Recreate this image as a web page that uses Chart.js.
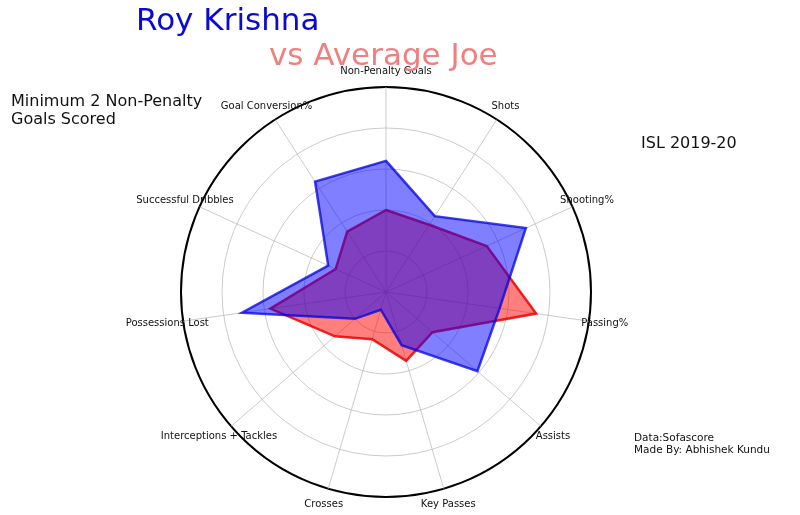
<!DOCTYPE html>
<html>
<head>
<meta charset="utf-8">
<script src="https://cdn.jsdelivr.net/npm/chart.js@4.4.1/dist/chart.umd.min.js"></script>
<style>
  html, body { margin: 0; padding: 0; background: #ffffff; }
  #wrap { width: 800px; height: 515px; position: relative; }
</style>
</head>
<body>
<div id="wrap"><canvas id="c" width="800" height="515"></canvas></div>
<script>
// ---- data ----
const categories = ['Non-Penalty Goals', 'Shots', 'Shooting%', 'Passing%', 'Assists', 'Key Passes',
  'Crosses', 'Interceptions + Tackles', 'Possessions Lost', 'Successful Dribbles', 'Goal Conversion%'];
const royKrishna = [64, 44, 75, 56, 59, 27, 9, 20, 71, 31, 64];
const averageJoe = [40, 39, 54, 74, 30, 35, 24, 33, 57, 27, 35];
const scaleTicks = [0, 20, 40, 60, 80, 100];

const FONT = "'DejaVu Sans', 'Liberation Sans', sans-serif";

const textPlugin = {
  id: 'texts',
  afterDraw(chart) {
    const ctx = chart.ctx;
    const r = chart.scales.r;
    ctx.save();
    // category labels, centred around the outer ring
    ctx.font = '10px ' + FONT;
    ctx.fillStyle = '#111';
    ctx.textAlign = 'center';
    ctx.textBaseline = 'middle';
    categories.forEach((lab, i) => {
      const p = r.getPointPosition(i, r.drawingArea * 1.078);
      ctx.fillText(lab, p.x, p.y);
    });
    ctx.textAlign = 'left';
    ctx.textBaseline = 'alphabetic';
    // titles
    ctx.font = '31px ' + FONT;
    ctx.fillStyle = '#0a0ad2';
    ctx.fillText('Roy Krishna', 136, 29.5);
    ctx.fillStyle = '#f08080';
    ctx.fillText('vs Average Joe', 269, 65);
    // side notes
    ctx.fillStyle = '#111';
    ctx.font = '16px ' + FONT;
    ctx.fillText('Minimum 2 Non-Penalty', 11, 106);
    ctx.fillText('Goals Scored', 11, 124);
    ctx.fillText('ISL 2019-20', 641, 148);
    ctx.font = '10.5px ' + FONT;
    ctx.fillText('Data:Sofascore', 634, 441);
    ctx.fillText('Made By: Abhishek Kundu', 634, 453);
    ctx.restore();
  }
};

new Chart(document.getElementById('c'), {
  type: 'radar',
  data: {
    labels: categories,
    datasets: [
      {
        label: 'Roy Krishna',
        data: royKrishna,
        backgroundColor: 'rgba(0,0,255,0.5)',
        borderColor: 'rgba(0,0,225,0.75)',
        borderWidth: 2.5,
        pointRadius: 0,
        fill: true,
        order: 0
      },
      {
        label: 'Average Joe',
        data: averageJoe,
        backgroundColor: 'rgba(255,0,0,0.5)',
        borderColor: 'rgba(235,0,0,0.85)',
        borderWidth: 2.5,
        pointRadius: 0,
        fill: true,
        order: 1
      }
    ]
  },
  options: {
    responsive: false,
    animation: false,
    devicePixelRatio: 1,
    layout: { padding: { left: 0, right: 28, top: 87, bottom: 18 } },
    plugins: {
      legend: { display: false },
      tooltip: { enabled: false },
      title: { display: false }
    },
    elements: { line: { tension: 0 } },
    scales: {
      r: {
        z: 1,
        min: scaleTicks[0],
        max: scaleTicks[scaleTicks.length - 1],
        ticks: { display: false, stepSize: scaleTicks[1] - scaleTicks[0] },
        pointLabels: { display: false },
        angleLines: { display: true, color: 'rgba(185,185,185,0.75)', lineWidth: 1 },
        grid: {
          circular: true,
          color: (c) => (c.index === scaleTicks.length - 1 ? '#000000' : 'rgba(185,185,185,0.75)'),
          lineWidth: (c) => (c.index === scaleTicks.length - 1 ? 2 : 1)
        }
      }
    }
  },
  plugins: [textPlugin]
});
</script>
</body>
</html>
